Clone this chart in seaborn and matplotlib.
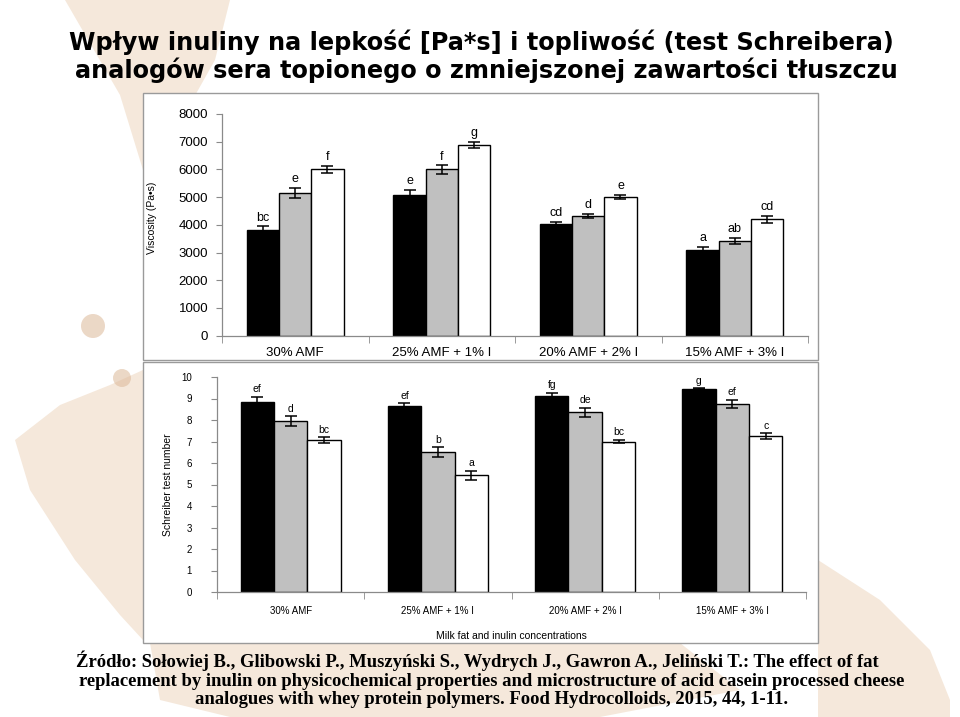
import seaborn as sns
import pandas as pd
import numpy as np
import matplotlib.pyplot as plt
from matplotlib.patches import Rectangle, Polygon, Ellipse

# Data
categories = ['30% AMF', '25% AMF + 1% I', '20% AMF + 2% I', '15% AMF + 3% I']
series = ['black', 'grey', 'white']

visc_black = [3810, 5085, 4040, 3090]
visc_grey = [5160, 6000, 4330, 3415]
visc_white = [6000, 6890, 5015, 4195]
visc_err_black = [140, 190, 60, 110]
visc_err_grey = [185, 150, 75, 115]
visc_err_white = [120, 110, 80, 130]
visc_letters_black = ['bc', 'e', 'cd', 'a']
visc_letters_grey = ['e', 'f', 'd', 'ab']
visc_letters_white = ['f', 'g', 'e', 'cd']

schr_black = [8.82, 8.63, 9.12, 9.45]
schr_grey = [7.95, 6.52, 8.36, 8.74]
schr_white = [7.05, 5.42, 7.00, 7.26]
schr_err_black = [0.25, 0.14, 0.15, 0.03]
schr_err_grey = [0.22, 0.22, 0.20, 0.19]
schr_err_white = [0.14, 0.21, 0.09, 0.13]
schr_letters_black = ['ef', 'ef', 'fg', 'g']
schr_letters_grey = ['d', 'b', 'de', 'ef']
schr_letters_white = ['bc', 'a', 'bc', 'c']

bar_colors = ['#000000', '#c0c0c0', '#ffffff']

W, H = 960, 717
fig = plt.figure(figsize=(9.6, 7.17), dpi=100, facecolor='white')


def fx(x):
    return x / W


def fy(y):
    return 1 - y / H


# soft beige decoration in the background
beige = '#e9cdb0'
shapes = [
    [(65, 0), (230, 0), (215, 60), (170, 140), (143, 170), (120, 95)],
    [(15, 440), (60, 405), (110, 385), (143, 370), (143, 640), (120, 615), (75, 560), (30, 490)],
    [(150, 643), (680, 643), (740, 690), (600, 717), (230, 717), (160, 700)],
    [(818, 560), (880, 600), (930, 650), (950, 700), (950, 717), (818, 717)],
]
for pts in shapes:
    fig.patches.append(Polygon([(fx(x), fy(y)) for x, y in pts], closed=True,
                               transform=fig.transFigure, facecolor=beige,
                               edgecolor='none', alpha=0.45, zorder=-5))
for (cx, cy, r) in [(93, 326, 12), (122, 378, 9)]:
    fig.patches.append(Ellipse((fx(cx), fy(cy)), 2 * r / W, 2 * r / H,
                               transform=fig.transFigure, facecolor='#dcb898',
                               edgecolor='none', alpha=0.55, zorder=-5))

# white panel boxes
for (x0, y0, x1, y1) in [(143, 93, 818, 360), (143, 362, 818, 643)]:
    fig.patches.append(Rectangle((fx(x0), fy(y1)), fx(x1 - x0), (y1 - y0) / H,
                                 transform=fig.transFigure, facecolor='white',
                                 edgecolor='#9a9a9a', linewidth=1.0, zorder=-1))


def draw_panel(ax, vals, errs, letters, width, ylim, yticks, tick_fs, cat_fs, let_fs, pad):
    rows = []
    for s, v in zip(series, vals):
        for c, val in zip(categories, v):
            rows.append({'category': c, 'series': s, 'value': val})
    df = pd.DataFrame(rows)
    sns.barplot(data=df, x='category', y='value', hue='series', hue_order=series,
                order=categories, palette=bar_colors, edgecolor='black', linewidth=1.0,
                width=width, errorbar=None, legend=False, ax=ax)
    off = (ylim[1] - ylim[0]) * 0.012
    for cont, e, lab in zip(ax.containers, errs, letters):
        xs = [b.get_x() + b.get_width() / 2 for b in cont]
        hs = [b.get_height() for b in cont]
        ax.errorbar(xs, hs, yerr=e, fmt='none', ecolor='black', elinewidth=1.1,
                    capsize=4, capthick=1.1, zorder=5)
        for x, h, ee, t in zip(xs, hs, e, lab):
            ax.text(x, h + ee + off, t, ha='center', va='bottom', fontsize=let_fs,
                    family='Liberation Sans')
    ax.set_ylim(*ylim)
    ax.set_xlim(-0.5, len(categories) - 0.5)
    ax.set_yticks(yticks)
    ax.set_yticklabels([str(t) for t in yticks], fontsize=tick_fs, family='Liberation Sans')
    ax.set_xticks(range(len(categories)))
    ax.set_xticklabels(categories, fontsize=cat_fs, family='Liberation Sans')
    ax.set_xticks(np.arange(-0.5, len(categories)), minor=True)
    ax.tick_params(axis='x', which='major', length=0, pad=pad)
    ax.tick_params(axis='x', which='minor', length=5, color='#8a8a8a', direction='out')
    ax.tick_params(axis='y', length=4, color='#8a8a8a', direction='out', pad=6)
    ax.set_xlabel('')
    for sp in ['top', 'right']:
        ax.spines[sp].set_visible(False)
    for sp in ['left', 'bottom']:
        ax.spines[sp].set_color('#8a8a8a')
        ax.spines[sp].set_linewidth(0.9)
    ax.set_facecolor('none')


ax1 = fig.add_axes([fx(222), fy(335.7), fx(808 - 222), (335.7 - 114) / H])
draw_panel(ax1, [visc_black, visc_grey, visc_white],
           [visc_err_black, visc_err_grey, visc_err_white],
           [visc_letters_black, visc_letters_grey, visc_letters_white],
           0.66, (0, 8000), list(range(0, 8001, 1000)), 9.5, 9.5, 9, 8)
ax1.set_ylabel('Viscosity (Pa\u2022s)', fontsize=7.5, family='Liberation Sans')
ax1.yaxis.set_label_coords(fx(157 - 222) / fx(808 - 222), 0.53)

ax2 = fig.add_axes([fx(217), fy(592), fx(806 - 217), (592 - 377) / H])
draw_panel(ax2, [schr_black, schr_grey, schr_white],
           [schr_err_black, schr_err_grey, schr_err_white],
           [schr_letters_black, schr_letters_grey, schr_letters_white],
           0.68, (0, 10), list(range(0, 11)), 7, 7, 7.5, 10)
ax2.tick_params(axis='y', pad=14)
ax2.set_ylabel('Schreiber test number', fontsize=7.5, family='Liberation Sans')
ax2.yaxis.set_label_coords(fx(173 - 217) / fx(806 - 217), 0.5)
ax2.set_xlabel('Milk fat and inulin concentrations', fontsize=7.5, family='Liberation Sans')
ax2.xaxis.set_label_coords(0.5, -(631 - 592) / (592 - 377))

# title
title_kw = dict(ha='center', va='center', fontsize=17.3, fontweight='bold', family='DejaVu Sans')
fig.text(fx(481), fy(42), 'Wpływ inuliny na lepkość [Pa*s] i topliwość (test Schreibera)', **title_kw)
fig.text(fx(486), fy(70), 'analogów sera topionego o zmniejszonej zawartości tłuszczu', **title_kw)

# source
src_kw = dict(ha='center', va='center', fontsize=13.4, fontweight='bold', family='Liberation Serif')
fig.text(fx(477), fy(661), 'Źródło: Sołowiej B., Glibowski P., Muszyński S., Wydrych J., Gawron A., Jeliński T.: The effect of fat', **src_kw)
fig.text(fx(492), fy(681), 'replacement by inulin on physicochemical properties and microstructure of acid casein processed cheese', **src_kw)
fig.text(fx(492), fy(699), 'analogues with whey protein polymers. Food Hydrocolloids, 2015, 44, 1-11.', **src_kw)

fig.savefig('out.png', dpi=100, facecolor='white')
